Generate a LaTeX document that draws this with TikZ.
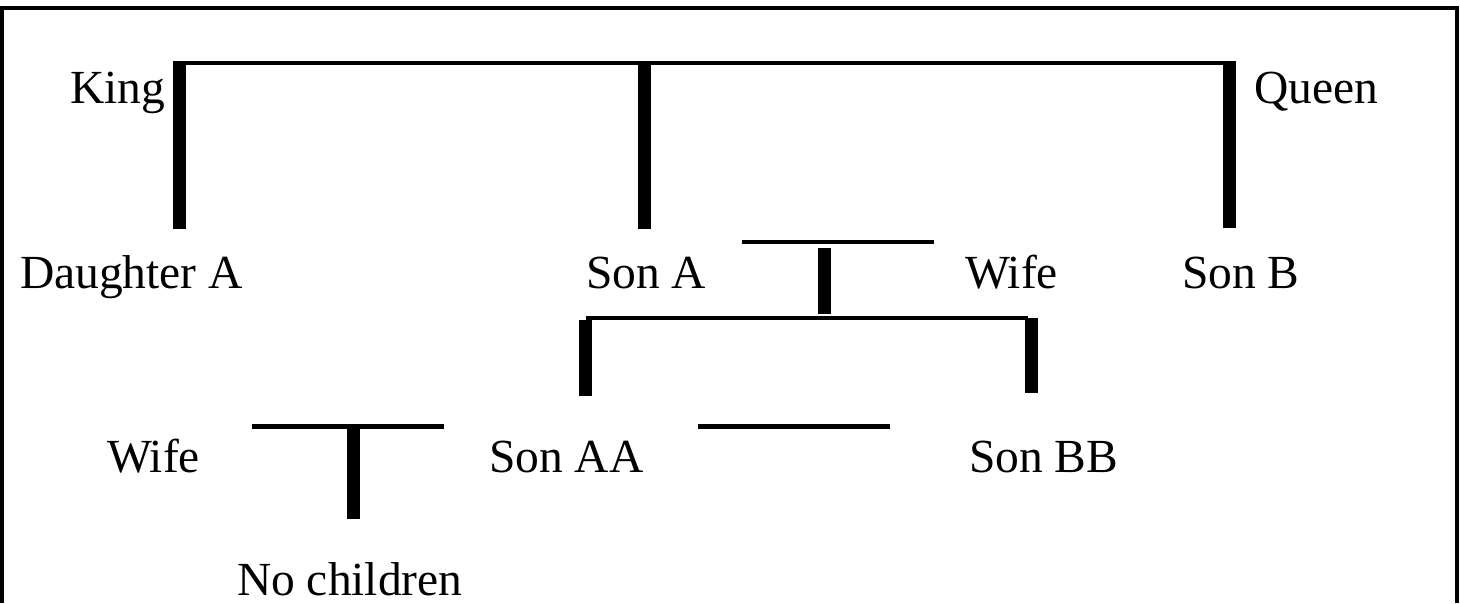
\documentclass[tikz,border=0pt]{standalone}
\usepackage{fontspec}
\setmainfont{Liberation Serif}
\begin{document}
\begin{tikzpicture}[x=1pt,y=-1pt,
  lbl/.style={anchor=base west,inner sep=0pt,outer sep=0pt,font=\fontsize{47.5}{52}\selectfont},
  thinbar/.style={line width=4.5pt,line cap=butt},
  thickbar/.style={line width=13pt,line cap=butt},
  framing/.style={line width=4pt,line cap=butt}]
\useasboundingbox (0,0) rectangle (1460,603);
\fill[white] (0,0) rectangle (1460,603);

% frame
\coordinate (fbl) at (1.5,603);
\coordinate (ftl) at (1.5,8);
\coordinate (ftr) at (1457,8);
\coordinate (fbr) at (1457,603);
\draw[framing] (fbl) -- (ftl) -- (ftr) -- (fbr);

% labels
\node[lbl] (king) at (70,103) {King};
\node[lbl] (queen) at (1254,103) {Queen};
\node[lbl] (daughterA) at (20,288) {Daughter A};
\node[lbl] (sonA) at (586,288) {Son A};
\node[lbl] (wifeA) at (965,288) {Wife};
\node[lbl] (sonB) at (1182,288) {Son B};
\node[lbl] (wifeAA) at (107,472) {Wife};
\node[lbl] (sonAA) at (489,472) {Son AA};
\node[lbl] (sonBB) at (969,472) {Son BB};
\node[lbl] (nochild) at (237,595) {No children};

% king and queen
\coordinate (kq1) at (173,63);
\coordinate (kq2) at (1236,63);
\draw[thinbar] (kq1) -- (kq2);
\coordinate (kd1) at (179.5,61);
\coordinate (kd2) at (179.5,229);
\draw[thickbar] (kd1) -- (kd2);
\coordinate (km1) at (644.5,61);
\coordinate (km2) at (644.5,229);
\draw[thickbar] (km1) -- (km2);
\coordinate (kr1) at (1229.5,61);
\coordinate (kr2) at (1229.5,228);
\draw[thickbar] (kr1) -- (kr2);

% son A and wife
\coordinate (sw1) at (742,242);
\coordinate (sw2) at (934,242);
\draw[thinbar] (sw1) -- (sw2);
\coordinate (ss1) at (824.5,248);
\coordinate (ss2) at (824.5,314);
\draw[thickbar] (ss1) -- (ss2);
\coordinate (sh1) at (586,318);
\coordinate (sh2) at (1028,318);
\draw[thinbar] (sh1) -- (sh2);
\coordinate (sl1) at (585.5,320);
\coordinate (sl2) at (585.5,396);
\draw[thickbar] (sl1) -- (sl2);
\coordinate (sr1) at (1031.5,318);
\coordinate (sr2) at (1031.5,393);
\draw[thickbar] (sr1) -- (sr2);

% son AA and wife
\coordinate (aw1) at (252,426.5);
\coordinate (aw2) at (444,426.5);
\draw[thinbar] (aw1) -- (aw2);
\coordinate (as1) at (353.5,429);
\coordinate (as2) at (353.5,519);
\draw[thickbar] (as1) -- (as2);

% between son AA and son BB
\coordinate (ab1) at (698,426.5);
\coordinate (ab2) at (890,426.5);
\draw[thinbar] (ab1) -- (ab2);
\end{tikzpicture}
\end{document}
